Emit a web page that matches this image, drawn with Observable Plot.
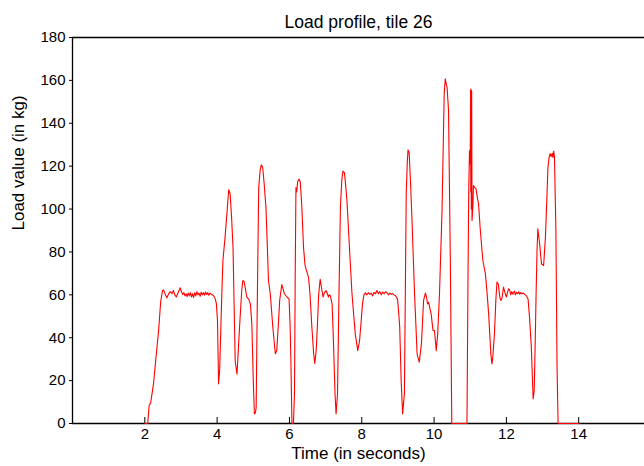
<!DOCTYPE html>
<html><head><meta charset="utf-8">
<script src="https://cdn.jsdelivr.net/npm/d3@7"></script>
<script src="https://cdn.jsdelivr.net/npm/@observablehq/plot@0.6"></script>
<style>body{margin:0;background:#fff}svg{display:block}</style>
</head><body><div id="chart"></div>
<script>
const title = "Load profile, tile 26";
const xLabel = "Time (in seconds)";
const yLabel = "Load value (in kg)";
const xTicks = [2, 4, 6, 8, 10, 12, 14];
const yTicks = [0, 20, 40, 60, 80, 100, 120, 140, 160, 180];
const xDomain = [0, 15.82];
const yDomain = [0, 180];

const times = [
  2.00, 2.08, 2.12, 2.16, 2.24, 2.31, 2.38, 2.44, 2.49, 2.52, 2.57, 2.61, 2.66, 2.70, 2.75, 2.79, 2.83, 2.87, 2.92, 2.96,
  2.98, 3.01, 3.05, 3.08, 3.11, 3.14, 3.17, 3.20, 3.23, 3.26, 3.29, 3.32, 3.35, 3.38, 3.41, 3.44, 3.47, 3.50, 3.53, 3.56,
  3.59, 3.62, 3.65, 3.68, 3.71, 3.74, 3.77, 3.80, 3.84, 3.90, 3.95, 3.98, 4.01, 4.04, 4.07, 4.12, 4.16, 4.22, 4.28, 4.32,
  4.36, 4.40, 4.44, 4.47, 4.50, 4.55, 4.62, 4.68, 4.71, 4.75, 4.79, 4.82, 4.87, 4.92, 4.96, 5.00, 5.03, 5.06, 5.08, 5.11,
  5.15, 5.19, 5.22, 5.26, 5.30, 5.35, 5.39, 5.42, 5.47, 5.54, 5.61, 5.65, 5.70, 5.73, 5.79, 5.82, 5.86, 5.93, 5.99, 6.02,
  6.04, 6.07, 6.11, 6.14, 6.16, 6.18, 6.20, 6.23, 6.27, 6.30, 6.34, 6.39, 6.43, 6.46, 6.53, 6.57, 6.62, 6.67, 6.70, 6.74,
  6.78, 6.81, 6.85, 6.88, 6.93, 6.97, 7.01, 7.05, 7.08, 7.10, 7.13, 7.15, 7.18, 7.22, 7.26, 7.29, 7.33, 7.37, 7.41, 7.45,
  7.48, 7.52, 7.55, 7.59, 7.66, 7.73, 7.78, 7.82, 7.89, 7.94, 7.98, 8.02, 8.06, 8.10, 8.14, 8.18, 8.22, 8.26, 8.30, 8.34,
  8.38, 8.42, 8.46, 8.50, 8.54, 8.58, 8.62, 8.66, 8.70, 8.74, 8.78, 8.82, 8.86, 8.90, 8.93, 8.99, 9.02, 9.05, 9.09, 9.13,
  9.18, 9.21, 9.23, 9.26, 9.28, 9.31, 9.35, 9.39, 9.46, 9.50, 9.53, 9.59, 9.65, 9.71, 9.76, 9.79, 9.82, 9.85, 9.88, 9.92,
  9.97, 10.01, 10.04, 10.06, 10.10, 10.15, 10.22, 10.28, 10.31, 10.33, 10.36, 10.40, 10.45, 10.49, 10.91, 10.94, 10.96, 10.98, 11.00, 11.01,
  11.015, 11.02, 11.03, 11.04, 11.05, 11.07, 11.09, 11.12, 11.16, 11.20, 11.23, 11.28, 11.35, 11.42, 11.47, 11.51, 11.57, 11.60, 11.62, 11.67,
  11.71, 11.74, 11.78, 11.81, 11.83, 11.85, 11.88, 11.92, 11.96, 12.00, 12.03, 12.06, 12.09, 12.12, 12.15, 12.18, 12.22, 12.25, 12.28, 12.31,
  12.34, 12.37, 12.40, 12.43, 12.47, 12.52, 12.56, 12.60, 12.64, 12.69, 12.74, 12.77, 12.80, 12.82, 12.85, 12.87, 12.92, 12.97, 13.03, 13.08,
  13.12, 13.15, 13.18, 13.21, 13.24, 13.27, 13.29, 13.31, 13.33, 13.37, 13.40, 13.43, 14.00
];
const loads = [
  0, 0, 8.4, 9.5, 18.5, 31, 43, 57, 62, 62.3, 60, 58.6, 60.5, 61.5, 60.5, 62, 60, 59, 61, 62.5,
  63.3, 61.5, 60.2, 61, 59.5, 60.5, 59.2, 60.8, 59.5, 61, 59, 60.5, 58.8, 61, 59.5, 61.5, 60, 60.8, 59.3, 61.2,
  60, 61, 59.8, 61.3, 60.2, 61, 59.8, 60.8, 60.3, 59.7, 58, 55.8, 48, 18.5, 25, 55, 76, 86.9, 100, 109,
  107, 96, 82, 55, 29, 23, 45, 62, 66.7, 66, 62, 59, 58, 55.8, 46.5, 20, 4.5, 5, 7.6, 55,
  110, 118, 120.6, 119.5, 112, 100.9, 82, 66.7, 60.5, 45, 32.5, 34, 48, 57.4, 64.8, 63, 60.5, 59, 58, 45,
  29, 0, 0, 14, 70, 110, 108, 113, 114, 112.5, 102, 82, 74, 72, 68, 60, 45, 32.5, 28, 34,
  48, 60.5, 67.2, 64, 59, 61, 62, 60.5, 59, 60, 59.7, 58, 55.8, 37, 14, 4.5, 14, 60, 100.9, 114,
  117.7, 117, 112, 104, 82, 60.5, 50, 41.8, 34, 38.7, 47, 55.8, 60, 61, 60, 61, 60.2, 60.8, 59.5, 61.2,
  60.5, 62, 60.5, 61.5, 60, 61.3, 60.5, 61.5, 61, 60, 60.8, 60.3, 60.6, 59.8, 59.7, 58, 52, 45, 20, 4.5,
  14, 70, 107, 122, 127.6, 126.5, 112, 94.7, 60.5, 45, 32.5, 28.6, 37, 57.4, 60.8, 59, 55.8, 56.5, 54, 51,
  43.4, 43.4, 38, 34, 41.8, 60.5, 99, 153.7, 160.7, 159, 156.8, 146, 76, 0, 0, 71, 110, 127.3, 121, 155.5,
  108, 156, 100, 155, 94.7, 100, 111, 110, 109.5, 105, 102.5, 90, 76, 69.8, 60, 51, 32.5, 27.8, 30, 41.8,
  58, 66, 64.8, 60, 58, 57.4, 58.5, 63.6, 61, 59, 61, 62.8, 62.3, 60, 61.5, 60.2, 61.8, 60, 61.2, 60.5,
  61.4, 60.3, 61, 60.5, 60.8, 60, 59.5, 58, 49.6, 35.6, 11.5, 15.4, 40, 59, 82, 90.8, 83.8, 74.5, 73.7, 86.9,
  105, 119.5, 124, 125.8, 124.5, 126, 124, 127, 124.2, 90, 27.8, 0, 0
];

const data = times.map((t, i) => ({t, v: loads[i]}));
const W = 644, H = 466, MT = 37, MB = 43, ML = 72, MR = 0;
const font = "'Liberation Sans', Arial, Helvetica, sans-serif";

const chart = Plot.plot({
  width: W, height: H,
  marginTop: MT, marginBottom: MB, marginLeft: ML, marginRight: MR,
  style: {fontFamily: font, fontSize: "15px", color: "#000", background: "#fff"},
  x: {domain: xDomain, label: null},
  y: {domain: yDomain, label: null},
  marks: [
    Plot.axisX({ticks: xTicks, tickSize: 0, tickPadding: 5, label: null, fontSize: 15}),
    Plot.axisY({ticks: yTicks, tickSize: 3, tickPadding: 4, label: null, fontSize: 15}),
    Plot.tickX(xTicks, {x: d => d, insetTop: (H - MT - MB) - 6, stroke: "#000"}),
    Plot.ruleY(yDomain, {stroke: "#000", strokeWidth: 1.3}),
    Plot.ruleX([xDomain[0]], {stroke: "#000", strokeWidth: 1.3}),
    Plot.line(data, {x: "t", y: "v", stroke: "#ff0000", strokeWidth: 1.1}),
    Plot.text([title], {text: d => d, frameAnchor: "top", dy: -22, fontSize: 17.5}),
    Plot.text([xLabel], {text: d => d, frameAnchor: "bottom", dy: 35, fontSize: 17}),
    Plot.text([yLabel], {text: d => d, frameAnchor: "left", dx: -54, rotate: -90, fontSize: 17})
  ]
});
document.getElementById("chart").appendChild(chart);
</script>
</body></html>
